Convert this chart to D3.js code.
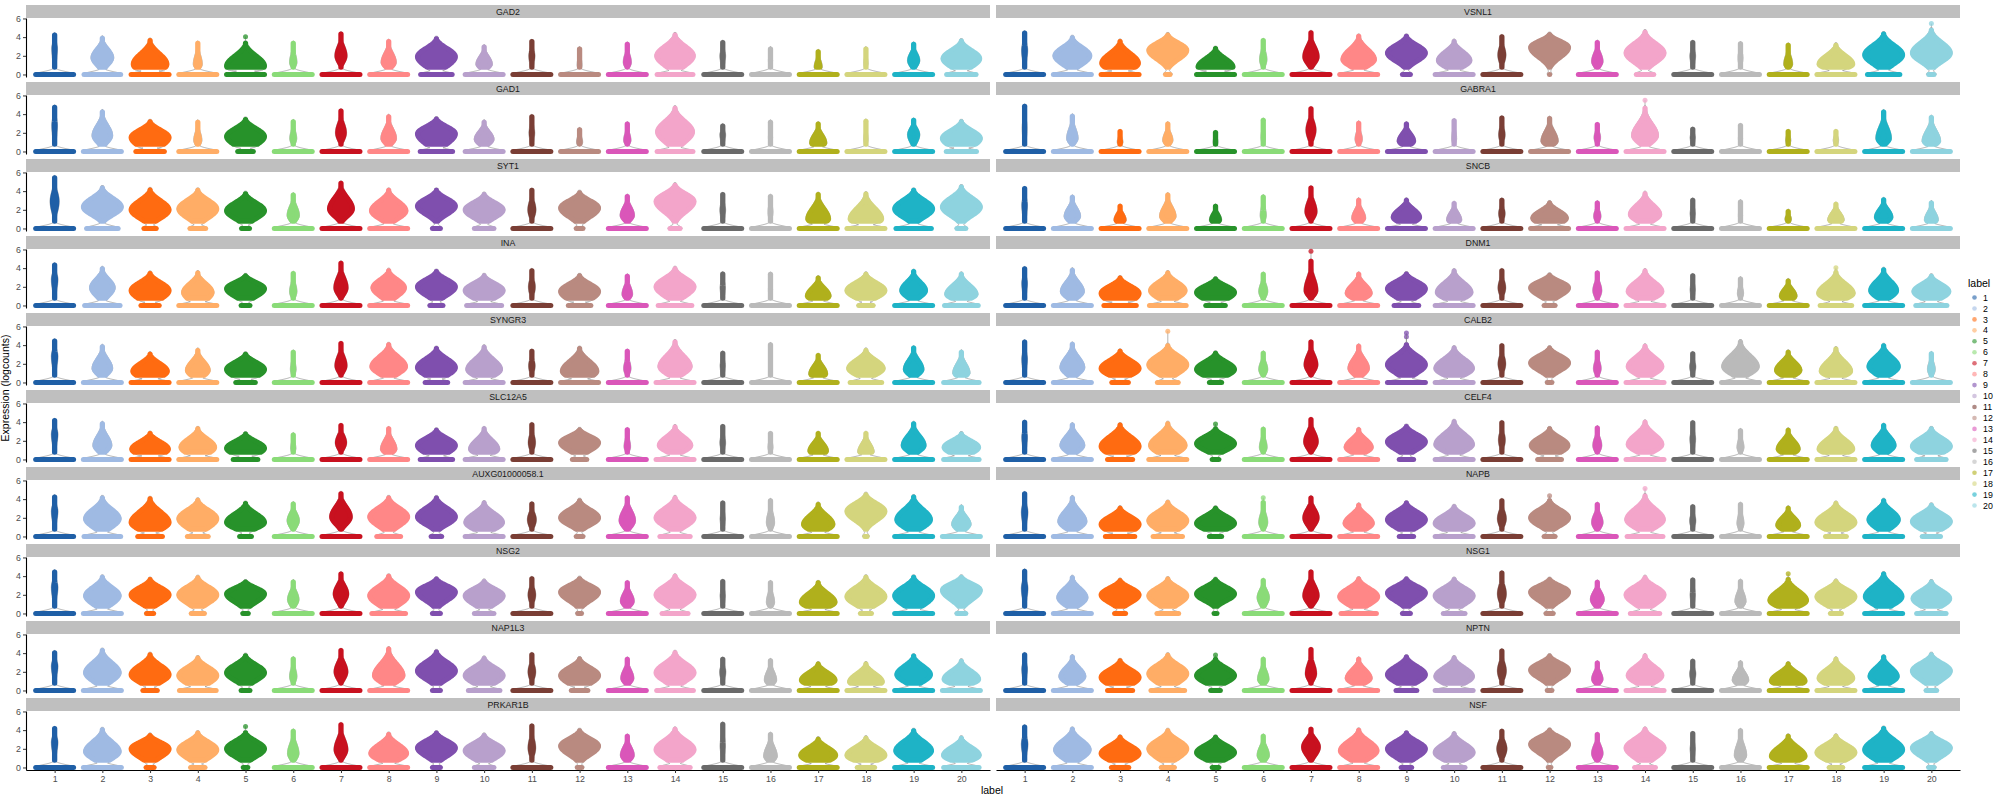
<!DOCTYPE html>
<html><head><meta charset="utf-8">
<script src="https://cdn.jsdelivr.net/npm/d3@7"></script>
<style>body{margin:0;background:#fff;} text{font-family:"Liberation Sans",Arial,sans-serif;}</style>
</head><body><svg id="c" width="2000" height="800"></svg>
<script>
// ---------------- data ----------------
const labels = d3.range(1, 21).map(String);
const genes = ["GAD2","VSNL1","GAD1","GABRA1","SYT1","SNCB","INA","DNM1","SYNGR3","CALB2",
  "SLC12A5","CELF4","AUXG01000058.1","NAPB","NSG2","NSG1","NAP1L3","NPTN","PRKAR1B","NSF"];
const colors = ["#1f5fa6","#9fbae3","#ff6b11","#ffad66","#27922a","#8adb78","#c8111f","#ff8787","#7f4fae","#b8a0cc",
  "#7a3e35","#b98a80","#da56b9","#f3a5ca","#6a6a6a","#bababa","#b0b01c","#d4d57d","#1eb3c6","#8ed3df"];
const yTicks = [0, 2, 4, 6];

// relative width of the zero-expression band (1 = full violin width)
const zeroWidth = [
 [1,0.97,1,1,1,1,1,1,0.85,1,1,1,1,0.95,1,1,1,1,1,0.8],            // GAD2
 [1,1,1,0.22,1,1,1,1,0.3,1,1,0.12,1,0.52,1,1,1,1,0.87,0.24],       // VSNL1
 [1,1,0.78,1,0.48,1,1,1,0.87,1,1,1,1,0.95,1,1,1,1,1,0.82],         // GAD1
 [1,1,1,1,1,1,1,1,1,1,1,1,1,1,1,1,1,1,1,1],                        // GABRA1
 [1,0.85,0.4,0.48,0.3,1,1,1,0.3,0.57,1,0.27,1,0.35,1,1,1,1,0.94,0.32], // SYT1
 [1,1,1,1,1,1,1,1,1,1,1,1,1,1,1,1,1,1,1,1],                        // SNCB
 [1,0.94,0.54,1,0.32,1,1,1,0.42,0.93,1,0.64,1,0.9,1,1,1,0.45,1,0.9], // INA
 [1,1,0.87,0.97,0.57,1,1,1,0.69,1,1,0.37,1,1,1,1,1,0.85,1,0.84],   // DNM1
 [1,1,1,1,0.57,1,1,1,0.64,1,1,1,1,1,1,1,1,0.85,1,0.94],            // SYNGR3
 [1,1,0.5,0.6,0.4,1,1,1,1,1,1,0.22,1,1,1,1,1,1,1,1],               // CALB2
 [1,1,1,1,0.69,1,1,1,0.87,1,1,0.45,1,1,1,1,1,1,1,0.94],            // SLC12A5
 [1,1,0.7,1,0.27,1,1,1,0.45,1,1,0.67,1,1,1,1,1,1,1,0.8],           // CELF4
 [1,0.97,0.69,0.6,0.39,1,1,0.67,0.36,1,1,0.27,1,0.82,1,1,1,0.17,1,1], // AUXG01000058.1
 [1,1,0.8,0.8,0.4,1,1,1,0.45,1,1,0.37,1,0.95,1,1,1,0.6,1,0.54],    // NAPB
 [1,1,0.28,0.42,0.24,1,1,0.9,0.3,0.57,1,0.2,1,0.72,1,1,1,0.37,1,0.32], // NSG2
 [1,1,0.37,0.62,0.18,1,1,0.94,0.3,0.62,1,0.28,1,0.8,1,1,1,0.37,1,0.8], // NSG1
 [1,1,0.45,0.97,0.32,1,1,1,0.3,0.85,1,0.5,1,0.97,1,1,1,1,1,1],     // NAP1L3
 [1,1,0.7,0.9,0.34,1,1,1,0.6,1,1,0.22,1,1,1,1,1,1,1,0.36],         // NPTN
 [1,1,0.3,0.45,0.22,1,1,1,0.3,0.57,1,0.22,1,0.82,1,1,1,0.52,1,0.94], // PRKAR1B
 [1,1,0.52,0.42,0.27,1,1,1,0.36,0.62,1,0.17,1,0.6,1,1,1,0.43,1,0.24] // NSF
];
// relative width of the expressing bulb at its widest
const bulbWidth = [
 [0.14,0.55,0.9,0.22,1.0,0.18,0.3,0.37,1.0,0.4,0.15,0.12,0.2,0.97,0.14,0.1,0.2,0.1,0.3,0.97],
 [0.15,0.93,0.97,1.0,0.93,0.18,0.4,0.85,1.0,0.85,0.2,1.0,0.28,1.0,0.14,0.12,0.22,0.9,1.0,1.0],
 [0.14,0.5,1.0,0.2,1.0,0.17,0.27,0.38,1.0,0.48,0.14,0.15,0.18,0.93,0.14,0.1,0.42,0.1,0.3,1.0],
 [0.12,0.28,0.14,0.25,0.12,0.11,0.25,0.18,0.45,0.12,0.16,0.42,0.16,0.65,0.13,0.1,0.13,0.13,0.38,0.45],
 [0.22,1.0,1.0,1.0,1.0,0.3,0.65,0.92,1.0,1.0,0.2,1.0,0.35,1.0,0.14,0.12,0.6,0.85,1.0,1.0],
 [0.14,0.4,0.3,0.4,0.3,0.15,0.3,0.34,0.73,0.37,0.16,0.9,0.18,0.8,0.13,0.1,0.16,0.4,0.45,0.34],
 [0.16,0.62,1.0,0.78,1.0,0.18,0.35,0.85,1.0,1.0,0.17,1.0,0.26,1.0,0.13,0.1,0.62,1.0,0.67,0.8],
 [0.14,0.58,1.0,0.92,1.0,0.22,0.34,0.65,1.0,0.9,0.19,1.0,0.22,0.9,0.13,0.15,0.43,0.92,0.72,0.93],
 [0.16,0.5,0.92,0.6,1.0,0.14,0.3,0.9,1.0,0.88,0.16,0.92,0.18,0.82,0.13,0.09,0.46,0.92,0.5,0.42],
 [0.14,0.6,1.0,1.0,1.0,0.22,0.34,0.52,1.0,0.97,0.19,1.0,0.19,0.9,0.15,0.9,0.66,0.8,0.8,0.19],
 [0.16,0.46,0.97,0.9,1.0,0.13,0.28,0.4,1.0,0.75,0.18,1.0,0.16,0.85,0.14,0.12,0.5,0.4,0.6,0.92],
 [0.14,0.6,1.0,0.92,1.0,0.19,0.36,0.7,1.0,0.97,0.17,0.97,0.22,0.9,0.14,0.17,0.58,0.9,0.6,1.0],
 [0.16,0.9,1.0,1.0,1.0,0.3,0.55,1.0,1.0,0.97,0.22,1.0,0.4,1.0,0.13,0.2,0.8,1.0,0.9,0.47],
 [0.16,0.7,1.0,1.0,1.0,0.22,0.4,0.75,1.0,1.0,0.22,1.0,0.28,0.97,0.15,0.17,0.6,1.0,0.8,1.0],
 [0.16,0.9,1.0,1.0,1.0,0.28,0.38,1.0,1.0,1.0,0.19,1.0,0.34,1.0,0.13,0.2,0.9,1.0,1.0,1.0],
 [0.16,0.75,1.0,1.0,1.0,0.3,0.4,1.0,1.0,1.0,0.22,1.0,0.34,1.0,0.13,0.27,0.97,1.0,0.97,0.97],
 [0.16,0.9,1.0,1.0,1.0,0.18,0.34,0.78,1.0,1.0,0.19,1.0,0.32,1.0,0.15,0.3,0.9,0.88,0.9,0.92],
 [0.14,0.65,1.0,1.0,1.0,0.28,0.28,0.65,1.0,0.97,0.22,1.0,0.28,0.9,0.15,0.4,0.9,0.9,0.75,1.0],
 [0.16,0.9,1.0,1.0,1.0,0.28,0.34,0.95,1.0,1.0,0.19,1.0,0.34,1.0,0.13,0.33,0.93,1.0,0.95,0.95],
 [0.16,0.9,1.0,1.0,1.0,0.3,0.46,0.97,1.0,1.0,0.25,1.0,0.28,1.0,0.13,0.3,0.9,1.0,1.0,1.0]
];
// expression level (logcounts) where the bulb is widest
const bulbMode = [
 [2.8,1.8,1.1,1.1,0.9,1.3,2.0,1.3,1.9,1.1,2.0,1.0,1.3,2.0,2.0,1.5,0.8,1.2,1.5,1.7],
 [2.6,2.0,1.2,2.6,0.8,1.6,1.9,1.6,2.3,1.5,2.1,2.9,1.4,2.3,2.0,1.8,1.1,1.1,2.1,2.3],
 [2.8,1.7,1.5,1.2,1.6,1.4,2.0,1.4,1.9,1.3,2.0,1.0,1.2,2.1,1.8,1.5,0.9,1.3,1.8,1.4],
 [2.5,1.4,1.0,1.2,1.0,1.5,2.3,1.3,1.1,1.4,1.8,1.1,1.5,1.7,1.5,1.4,1.2,1.2,1.4,1.1],
 [2.9,2.3,2.0,2.1,1.9,1.4,2.1,1.9,2.4,2.0,2.0,2.2,1.4,2.9,2.0,1.8,1.0,1.0,2.1,2.3],
 [2.5,1.3,0.9,1.3,0.9,1.4,1.8,1.1,1.2,0.9,1.6,1.1,1.3,1.5,1.6,1.4,1.0,0.9,1.2,0.9],
 [2.8,1.9,1.6,1.4,1.8,1.5,1.9,1.9,2.0,1.6,2.0,1.5,1.2,2.0,1.9,1.7,1.0,1.6,1.6,1.2],
 [2.4,1.5,1.3,1.6,1.4,1.5,1.6,1.3,1.8,1.4,1.9,1.9,1.6,1.5,1.7,1.3,1.0,1.3,1.6,1.5],
 [2.8,1.5,1.2,1.3,1.4,1.4,1.8,1.7,1.6,1.4,1.8,1.2,1.5,1.7,1.8,1.8,0.9,1.5,1.4,1.0],
 [2.5,1.6,1.5,1.9,1.4,1.4,1.9,1.5,1.9,1.5,2.0,2.1,1.5,1.7,1.7,1.7,1.3,1.2,1.7,1.4],
 [2.7,1.5,1.1,1.3,1.2,1.2,1.8,1.1,1.5,1.1,1.8,1.8,1.4,1.5,1.8,1.3,0.9,0.8,1.5,1.3],
 [2.4,1.5,1.4,1.5,1.7,1.3,1.9,1.3,1.9,1.6,2.1,1.5,1.5,1.6,2.2,1.3,1.1,1.1,1.5,1.4],
 [2.7,1.9,1.5,1.9,1.5,1.7,2.1,2.1,2.1,1.5,1.8,2.0,1.7,2.0,1.9,1.5,1.3,2.7,1.8,1.3],
 [2.6,1.6,1.3,1.7,1.4,1.5,2.0,1.4,1.8,1.4,1.9,2.0,1.5,1.8,1.7,1.4,1.2,1.5,1.8,1.6],
 [2.8,1.9,2.0,2.0,2.1,1.5,2.1,1.9,2.3,1.9,2.0,2.3,1.3,2.0,1.9,1.2,1.2,1.8,1.9,2.5],
 [2.7,1.7,2.0,1.9,2.1,1.7,1.9,1.8,2.2,1.9,2.1,2.3,1.5,2.0,2.0,1.3,1.4,1.8,1.8,1.6],
 [2.6,1.9,1.7,1.6,1.9,1.5,2.0,1.6,2.1,1.6,2.0,1.6,1.3,1.9,2.0,1.1,1.1,0.9,1.7,1.2],
 [2.3,1.5,1.4,1.8,1.6,1.2,1.8,1.3,1.7,1.5,2.1,2.2,1.2,1.6,1.8,1.1,1.0,1.3,1.5,2.1],
 [2.7,1.7,2.0,1.9,2.0,1.5,1.9,1.5,2.1,1.8,2.1,2.3,1.3,1.9,2.3,1.2,1.3,1.3,1.8,1.3],
 [2.5,1.9,1.5,2.0,1.6,1.3,2.2,1.8,2.0,1.6,2.0,2.5,1.5,2.1,2.0,1.3,1.2,1.6,1.9,2.1]
];
// highest expression level reached by the body of the violin
const bulbTop = [
 [4.5,4.15,3.9,3.6,3.6,3.6,4.6,3.8,4.1,3.2,3.8,3.0,3.5,4.5,3.7,3.0,2.7,3.0,3.5,3.85],
 [4.7,4.2,3.8,4.5,3.05,3.9,4.75,4.35,4.35,3.8,4.3,4.55,3.7,4.8,3.7,3.55,3.4,3.4,4.6,5.0],
 [5.0,4.5,3.45,3.4,3.7,3.45,4.6,4.0,3.75,3.4,4.0,2.6,3.2,4.9,3.0,3.4,3.2,3.5,3.6,3.45],
 [5.1,4.05,2.4,3.2,2.3,3.6,4.85,3.3,3.2,3.55,3.85,3.8,3.15,4.9,2.65,3.05,2.4,2.4,4.5,3.9],
 [5.7,4.6,4.4,4.35,4.0,3.85,5.1,4.35,4.35,3.9,4.35,4.1,3.7,4.9,3.9,3.7,3.9,3.95,4.35,4.7],
 [4.55,3.6,2.65,3.85,2.65,3.65,4.6,3.3,3.3,2.95,3.3,3.0,3.0,4.0,3.3,3.1,2.1,2.85,3.35,3.0],
 [4.6,4.2,3.7,3.75,3.45,3.7,4.8,4.0,3.9,3.45,4.0,3.45,3.4,4.2,3.65,3.6,3.2,3.6,3.9,3.6],
 [4.2,4.05,3.2,3.75,3.1,3.6,5.0,3.6,3.65,3.95,4.0,3.5,3.75,3.95,3.45,3.1,2.9,3.8,4.1,3.4],
 [4.7,4.1,3.3,3.7,3.3,3.5,4.45,4.3,3.9,4.05,3.6,3.9,3.6,4.6,3.4,4.3,3.15,3.7,3.95,3.5],
 [4.6,4.35,3.6,4.2,3.4,3.4,4.6,4.15,4.3,3.95,4.2,3.95,3.5,4.15,3.35,4.6,3.5,3.85,4.2,3.35],
 [4.45,4.1,3.05,3.55,3.0,2.9,3.9,3.55,3.4,3.55,4.0,3.45,3.45,3.75,3.8,3.05,3.05,3.05,4.1,3.0],
 [4.25,3.95,3.95,4.1,3.55,3.5,4.55,3.45,3.8,4.3,4.2,3.55,3.65,4.25,4.2,3.35,3.4,3.55,3.9,3.55],
 [4.5,4.4,4.3,4.15,3.8,3.75,4.85,4.4,4.4,3.85,3.75,4.1,4.4,4.4,3.85,4.1,3.7,4.75,4.5,3.4],
 [4.85,4.4,3.3,3.9,3.3,3.9,4.4,3.6,3.85,3.45,4.1,4.1,3.7,4.6,3.45,3.7,3.3,3.8,4.1,3.6],
 [4.7,4.15,3.9,4.1,3.65,3.65,4.5,4.25,3.95,3.7,4.0,4.0,3.55,4.25,3.7,3.55,3.55,4.15,4.15,4.15],
 [4.8,4.1,3.8,3.95,3.9,3.8,4.7,3.95,3.95,3.9,4.6,3.9,3.6,4.1,3.85,3.7,3.9,3.7,4.5,3.65],
 [4.3,4.55,4.1,3.75,4.0,3.65,4.55,4.7,4.4,3.7,4.1,3.65,3.6,4.3,3.6,3.45,3.1,3.1,3.95,3.4],
 [4.1,3.85,3.45,4.05,3.6,3.6,4.65,3.6,3.85,3.75,4.5,3.95,3.2,3.95,3.4,3.2,3.1,3.6,3.85,4.1],
 [4.45,4.3,3.7,3.95,4.0,4.15,4.85,3.8,3.95,3.7,4.7,4.2,3.6,4.35,4.9,3.8,3.3,3.4,4.2,3.4],
 [4.6,4.35,3.5,4.2,3.5,3.6,4.35,4.25,3.95,3.85,4.15,4.25,3.8,4.35,3.9,4.2,3.6,3.6,4.45,3.85]
];
// width of the bulb at its lowest non-zero level, relative to its widest
const baseWidth = [
 [0.3,0.3,0.8,0.4,0.85,0.3,0.15,0.35,0.4,0.4,0.3,0.5,0.3,0.35,0.3,0.4,0.6,0.4,0.3,0.4],
 [0.25,0.25,0.65,0.1,0.8,0.3,0.2,0.3,0.12,0.35,0.2,0.08,0.3,0.2,0.3,0.3,0.3,0.45,0.25,0.15],
 [0.3,0.3,0.6,0.4,0.5,0.3,0.2,0.3,0.45,0.35,0.3,0.4,0.3,0.35,0.3,0.4,0.5,0.4,0.3,0.6],
 [0.3,0.25,0.35,0.3,0.35,0.3,0.2,0.3,0.35,0.3,0.25,0.3,0.3,0.3,0.3,0.3,0.3,0.3,0.25,0.3],
 [0.15,0.1,0.25,0.25,0.25,0.3,0.15,0.25,0.1,0.2,0.2,0.2,0.25,0.1,0.3,0.3,0.5,0.55,0.2,0.15],
 [0.3,0.3,0.45,0.3,0.45,0.3,0.2,0.35,0.45,0.4,0.3,0.6,0.3,0.35,0.3,0.3,0.4,0.45,0.35,0.4],
 [0.2,0.3,0.5,0.6,0.3,0.3,0.2,0.3,0.25,0.4,0.25,0.55,0.3,0.3,0.3,0.3,0.45,0.35,0.3,0.4],
 [0.3,0.3,0.7,0.4,0.5,0.3,0.2,0.3,0.35,0.4,0.2,0.25,0.3,0.35,0.3,0.3,0.45,0.4,0.3,0.4],
 [0.2,0.3,0.6,0.45,0.55,0.3,0.2,0.3,0.45,0.45,0.3,0.6,0.3,0.3,0.3,0.3,0.5,0.35,0.3,0.4],
 [0.3,0.3,0.4,0.3,0.45,0.3,0.2,0.3,0.3,0.35,0.2,0.15,0.3,0.3,0.3,0.3,0.35,0.4,0.3,0.3],
 [0.2,0.3,0.65,0.55,0.6,0.3,0.2,0.35,0.5,0.45,0.25,0.3,0.3,0.3,0.3,0.3,0.5,0.5,0.3,0.5],
 [0.3,0.3,0.6,0.45,0.25,0.3,0.2,0.35,0.25,0.3,0.2,0.45,0.3,0.3,0.25,0.3,0.4,0.45,0.3,0.45],
 [0.2,0.3,0.45,0.35,0.3,0.25,0.15,0.25,0.15,0.4,0.25,0.15,0.25,0.25,0.3,0.3,0.45,0.08,0.3,0.35],
 [0.25,0.3,0.65,0.45,0.4,0.3,0.2,0.35,0.3,0.4,0.2,0.2,0.3,0.3,0.3,0.3,0.35,0.4,0.3,0.4],
 [0.2,0.3,0.2,0.25,0.2,0.3,0.2,0.35,0.15,0.3,0.2,0.15,0.3,0.3,0.3,0.35,0.45,0.3,0.35,0.15],
 [0.25,0.3,0.2,0.3,0.1,0.3,0.2,0.3,0.15,0.3,0.2,0.15,0.3,0.3,0.3,0.3,0.4,0.3,0.3,0.4],
 [0.2,0.3,0.35,0.45,0.25,0.3,0.2,0.3,0.2,0.4,0.2,0.45,0.3,0.3,0.25,0.35,0.5,0.55,0.3,0.4],
 [0.3,0.3,0.55,0.4,0.35,0.3,0.2,0.3,0.35,0.4,0.2,0.15,0.3,0.35,0.3,0.35,0.5,0.45,0.3,0.25],
 [0.2,0.3,0.25,0.3,0.2,0.3,0.2,0.35,0.2,0.3,0.2,0.15,0.3,0.3,0.2,0.35,0.45,0.4,0.3,0.35],
 [0.25,0.3,0.4,0.3,0.3,0.3,0.2,0.3,0.25,0.35,0.2,0.1,0.3,0.3,0.3,0.3,0.4,0.35,0.3,0.2]
];
// isolated high cells: [gene, label, logcounts]
const outliers = [
 ["GAD2","5",4.05],["GABRA1","14",5.5],["DNM1","7",5.8],["DNM1","18",4.05],
 ["CALB2","4",5.5],["CALB2","9",4.9],["CALB2","9",5.3],["PRKAR1B","5",4.4],
 ["VSNL1","20",5.45],["NSG1","17",4.25],["NAPB","14",5.15],["NAPB","6",4.15],
 ["NAPB","12",4.35],["CELF4","5",3.8],["NPTN","5",3.8]
];

// ---------------- layout ----------------
const svg = d3.select("#c");
const colX = [26, 996], panelW = 964, panelH = 59, stripH = 13;
const rowTop = r => 5 + 77 * r;
const x = d3.scalePoint().domain(labels).range([0, panelW]).padding(0.6);
const y = d3.scaleLinear().domain([-0.27, 6.05]).range([panelH, 0]);
const HW = 0.45 * x.step();
const R = 2.5;
const pxPerUnit = (y(0) - y(1));

function drawViolin(p, cx, gi, ci) {
  const z = zeroWidth[gi][ci], b = bulbWidth[gi][ci], m = bulbMode[gi][ci],
        t = bulbTop[gi][ci], wb = baseWidth[gi][ci], col = colors[ci];
  const lo = 0.5;
  const sH = Math.max(0.12, (t - m) / 2.45);
  const sL = m > lo ? (m - lo) / Math.sqrt(-2 * Math.log(wb)) : 0.3;
  const f = v => v >= m ? Math.exp(-0.5 * ((v - m) / sH) ** 2) : Math.exp(-0.5 * ((v - m) / sL) ** 2);
  const fExt = v => v >= lo ? f(v) : f(lo) * Math.exp(-0.5 * ((v - lo) / 0.12) ** 2);

  // grey density outline
  const ov = d3.range(0, t + 1e-6, 0.02).map(v => ({
    v, w: 0.96 * HW * Math.max(z * Math.exp(-0.5 * (v / 0.28) ** 2), b * fExt(v))
  }));
  const area = d3.area().y(d => y(d.v)).x0(d => cx - d.w).x1(d => cx + d.w);
  p.append("path").attr("d", area(ov)).attr("fill", "none")
    .attr("stroke", "#808080").attr("stroke-width", 0.6);

  // outlier cells
  outliers.filter(o => o[0] === genes[gi] && o[1] === labels[ci]).forEach(o => {
    p.append("line").attr("x1", cx).attr("x2", cx).attr("y1", y(t)).attr("y2", y(o[2]))
      .attr("stroke", "#808080").attr("stroke-width", 0.6);
    p.append("circle").attr("cx", cx).attr("cy", y(o[2])).attr("r", R)
      .attr("fill", col).attr("opacity", 0.75);
  });

  // expressing cells (bulb)
  const off = R / pxPerUnit;
  const v0 = lo + off, v1 = t - off;
  if (v1 > v0) {
    const n = 60;
    const bv = d3.range(n + 1).map(i => {
      const v = v0 + (v1 - v0) * i / n;
      return { v, w: Math.max(0.15, b * HW * f(v) - R) };
    });
    p.append("path").attr("d", area(bv)).attr("fill", col).attr("stroke", col)
      .attr("stroke-width", 2 * R).attr("stroke-linejoin", "round");
  }

  // zero band
  const hw = Math.max(0.05, z * HW - R);
  p.append("line").attr("x1", cx - hw).attr("x2", cx + hw).attr("y1", y(0)).attr("y2", y(0))
    .attr("stroke", col).attr("stroke-width", 2 * R).attr("stroke-linecap", "round");
}

genes.forEach((g, gi) => {
  const r = Math.floor(gi / 2), c = gi % 2;
  const gx = colX[c], gy = rowTop(r);
  const s = svg.append("g").attr("transform", `translate(${gx},${gy})`);
  s.append("rect").attr("width", panelW).attr("height", stripH).attr("fill", "#bfbfbf");
  s.append("text").attr("x", panelW / 2).attr("y", 9.7).attr("text-anchor", "middle")
    .attr("font-size", 8.8).attr("fill", "#1a1a1a").text(g);

  const p = svg.append("g").attr("transform", `translate(${gx},${gy + stripH})`);
  labels.forEach((lab, ci) => drawViolin(p, x(lab), gi, ci));

  if (c === 0) {
    const ya = p.append("g").call(d3.axisLeft(y).tickValues(yTicks).tickFormat(d3.format("d"))
      .tickSize(3).tickSizeOuter(0).tickPadding(2));
    ya.select(".domain").attr("stroke", "#000").attr("stroke-width", 1.1);
    ya.selectAll(".tick line").attr("stroke", "#333");
    ya.selectAll("text").attr("font-size", 8.8).attr("fill", "#4d4d4d")
      .attr("font-family", '"Liberation Sans",Arial,sans-serif');
  }
  if (r === 9) {
    const xa = p.append("g").attr("transform", `translate(0,${panelH})`)
      .call(d3.axisBottom(x).tickSize(3).tickSizeOuter(0).tickPadding(3));
    xa.select(".domain").attr("stroke", "#000").attr("stroke-width", 1.1);
    xa.selectAll(".tick line").attr("stroke", "#333");
    xa.selectAll("text").attr("font-size", 8.8).attr("fill", "#4d4d4d")
      .attr("font-family", '"Liberation Sans",Arial,sans-serif');
  }
});

// axis titles
svg.append("text").attr("transform", "translate(9,388) rotate(-90)").attr("text-anchor", "middle")
  .attr("font-size", 10.5).attr("fill", "#000").text("Expression (logcounts)");
svg.append("text").attr("x", 992).attr("y", 794).attr("text-anchor", "middle")
  .attr("font-size", 10.5).attr("fill", "#000").text("label");

// legend
const lg = svg.append("g").attr("transform", "translate(1968,0)");
lg.append("text").attr("x", 0).attr("y", 287).attr("font-size", 10.5).attr("fill", "#000").text("label");
labels.forEach((lab, i) => {
  const yy = 297.5 + i * 10.95;
  lg.append("circle").attr("cx", 6.5).attr("cy", yy).attr("r", 2.3).attr("fill", colors[i]).attr("opacity", 0.6);
  lg.append("text").attr("x", 15).attr("y", yy + 3.1).attr("font-size", 8.8).attr("fill", "#000").text(lab);
});
</script></body></html>
